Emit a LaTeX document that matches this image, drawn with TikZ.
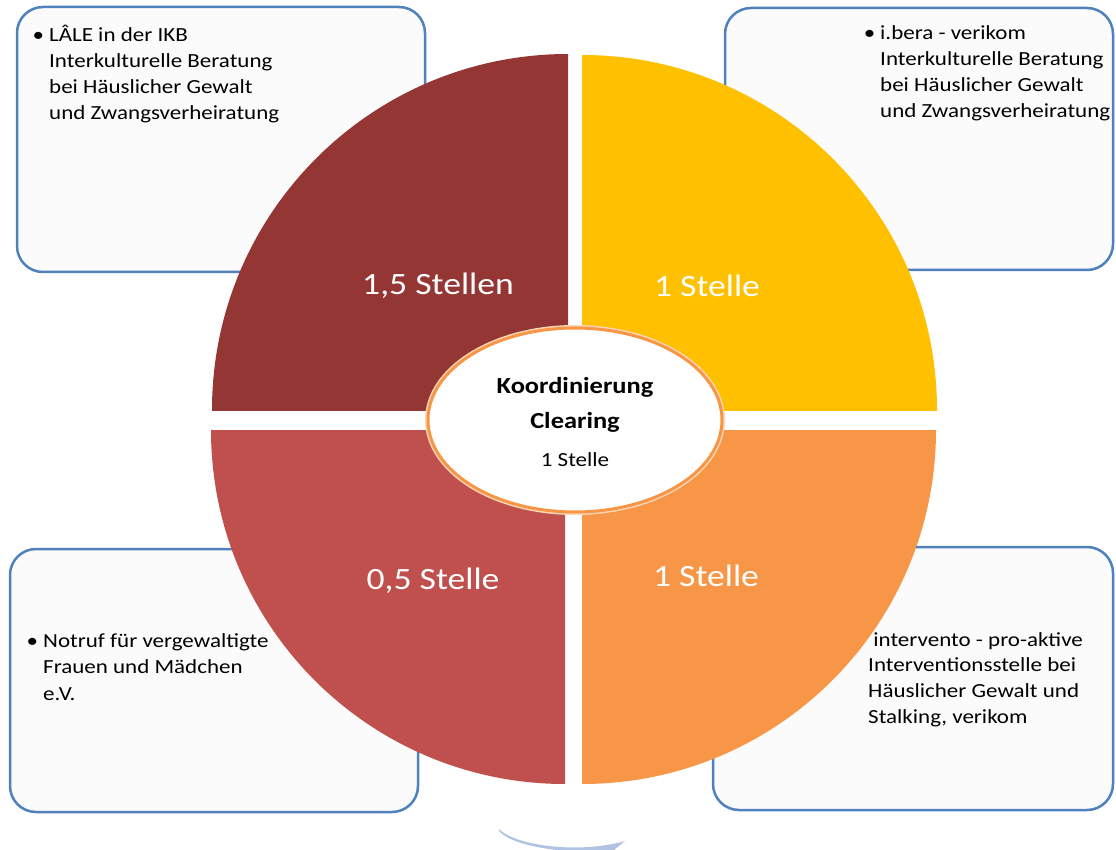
\documentclass[tikz,border=0pt]{standalone}
\usepackage{fontspec}
\setmainfont{Carlito}[FakeStretch=1.15]
\definecolor{qTL}{HTML}{943634}
\definecolor{qTR}{HTML}{FFC000}
\definecolor{qBL}{HTML}{C0504D}
\definecolor{qBR}{HTML}{F79646}
\definecolor{boxline}{HTML}{4F81BD}
\definecolor{boxfill}{HTML}{FBFBFB}
\definecolor{arcblue}{HTML}{AFC2E2}
\tikzset{
  infobox/.style={draw=boxline, fill=boxfill, line width=2.5pt, rounded corners=26pt},
  infotext/.style={anchor=north west, align=left, inner sep=0pt, font=\fontsize{20}{26}\selectfont},
  qlabel/.style={text=white, font=\fontsize{31}{36}\selectfont, inner sep=0pt},
}
\begin{document}
\begin{tikzpicture}[x=1pt,y=-1pt]
\useasboundingbox (0,0) rectangle (1116,850);
% boxes
\draw[infobox] (17,7) rectangle (425,272);
\draw[infobox] (725,8) rectangle (1113,270);
\draw[infobox] (10,549) rectangle (418,812);
\draw[infobox] (713,547) rectangle (1113,810);
% texts
\node[infotext] (tTL) at (49,25) {\llap{\textbullet\hspace{5pt}}LÂLE in der IKB\\Interkulturelle Beratung\\bei Häuslicher Gewalt\\und Zwangsverheiratung};
\node[infotext] (tTR) at (880,25) {\llap{\textbullet\hspace{5pt}}i.bera - verikom\\Interkulturelle Beratung\\bei Häuslicher Gewalt\\und Zwangsverheiratung};
\node[infotext, font=\fontsize{20}{26.5}\selectfont] (tBL) at (43,633) {\llap{\textbullet\hspace{5pt}}Notruf für vergewaltigte\\Frauen und Mädchen\\e.V.};
\node[infotext, font=\fontsize{20}{25.7}\selectfont] (tBR) at (868,632) {\ intervento - pro-aktive\\Interventionsstelle bei\\Häuslicher Gewalt und\\Stalking, verikom};
% pie quarters
\begin{scope}
\clip (0,0) rectangle (568,410);
\fill[qTL] (568,410) circle[radius=356];
\end{scope}
\begin{scope}
\clip (582,0) rectangle (1116,410);
\fill[qTR] (582,410) circle[radius=355];
\end{scope}
\begin{scope}
\clip (0,430) rectangle (565,850);
\fill[qBL] (565,430) circle[radius=354];
\end{scope}
\begin{scope}
\clip (582,430) rectangle (1116,850);
\fill[qBR] (582,430) circle[radius=354];
\end{scope}
\node[qlabel] (lTL) at (438,286) {1,5 Stellen};
\node[qlabel] (lTR) at (707,286) {1 Stelle};
\node[qlabel] (lBL) at (433,581) {0,5 Stelle};
\node[qlabel] (lBR) at (706,576) {1 Stelle};
% center ellipse
\draw[qBR!40, line width=6pt] (575,420) ellipse[x radius=147, y radius=92];
\draw[fill=white, draw=qBR, line width=3pt] (575,420) ellipse[x radius=147, y radius=92];
\node[font=\bfseries\fontsize{23}{27}\selectfont, inner sep=0pt] (c1) at (575,387) {Koordinierung};
\node[font=\bfseries\fontsize{23}{27}\selectfont, inner sep=0pt] (c2) at (575,422) {Clearing};
\node[font=\fontsize{20}{24}\selectfont, inner sep=0pt] (c3) at (575,460) {1 Stelle};
% bottom arc
\fill[arcblue] (499,829) .. controls (515,846) and (580,854) .. (625,841)
  -- (614,850) .. controls (575,855) and (514,848) .. (499,831) -- cycle;
\end{tikzpicture}
\end{document}
